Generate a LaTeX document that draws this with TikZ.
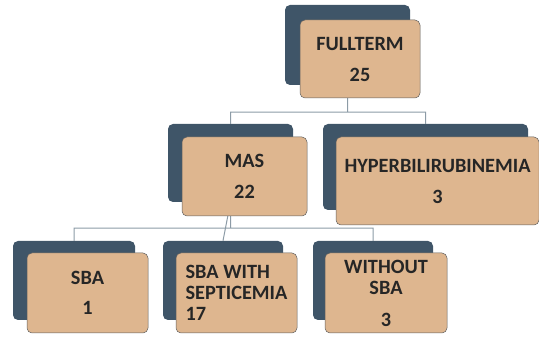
\documentclass[tikz,border=0pt]{standalone}
\usepackage{fontspec}
\setmainfont{Carlito}
\usetikzlibrary{positioning}
\definecolor{slate}{RGB}{63,85,104}
\definecolor{tan}{RGB}{222,182,143}
\definecolor{busline}{RGB}{140,155,166}

\begin{document}
\begin{tikzpicture}[x=1pt, y=-1pt,
    backbox/.style={rectangle, rounded corners=5pt, fill=slate, inner sep=0pt},
    frontbox/.style={rectangle, rounded corners=5pt, fill=tan, draw=gray!75!black, line width=0.5pt, inner sep=0pt, align=center, font=\fontsize{20.3}{22}\selectfont\bfseries, text=black!85},
    bus/.style={draw=busline, line width=1pt}]
    \useasboundingbox (0,0) rectangle (539,339);

    % back boxes
    \node[backbox, minimum width=125pt, minimum height=80pt] (fulltermBack) at (347.5,45) {};
    \node[backbox, minimum width=125pt, minimum height=78pt] (masBack) at (230.5,163) {};
    \node[backbox, minimum width=205pt, minimum height=86pt] (hyperBack) at (425.5,167) {};
    \node[backbox, minimum width=122pt, minimum height=79pt] (sbaBack) at (74,280.5) {};
    \node[backbox, minimum width=120pt, minimum height=79pt] (septBack) at (223,280.5) {};
    \node[backbox, minimum width=120pt, minimum height=79pt] (withoutBack) at (373,280.5) {};

    % connectors
    \path[bus]
        (fulltermBack.south) -- ++(0,27) -| (masBack.north)
        (fulltermBack.south) ++(0,27) -| (hyperBack.north)
        (masBack.south) -- ++(0,26) -| (sbaBack.north)
        (masBack.south) ++(0,26) -| (withoutBack.north)
        (masBack.south) -- (septBack.north)
    ;

    % front boxes
    \node[frontbox, minimum width=120pt, minimum height=78pt] (fullterm) at (360,59) {FULLTERM\\[9pt]25};
    \node[frontbox, minimum width=125pt, minimum height=79pt] (mas) at (244.5,176.5) {MAS\\[9pt]22};
    \node[frontbox, minimum width=203pt, minimum height=88pt] (hyper) at (437.5,181) {HYPERBILIRUBINEMIA\\[9pt]3};
    \node[frontbox, minimum width=121pt, minimum height=80pt] (sba) at (87.5,293) {SBA\\[8pt]1};
    \node[frontbox, minimum width=121pt, minimum height=80pt, align=left] (sept) at (236.5,293) {SBA WITH\\[-1pt]SEPTICEMIA\\[-1pt]17};
    \node[frontbox, minimum width=122pt, minimum height=80pt] (without) at (386,293) {WITHOUT\\[-1pt]SBA\\[10pt]3};
\end{tikzpicture}
\end{document}
